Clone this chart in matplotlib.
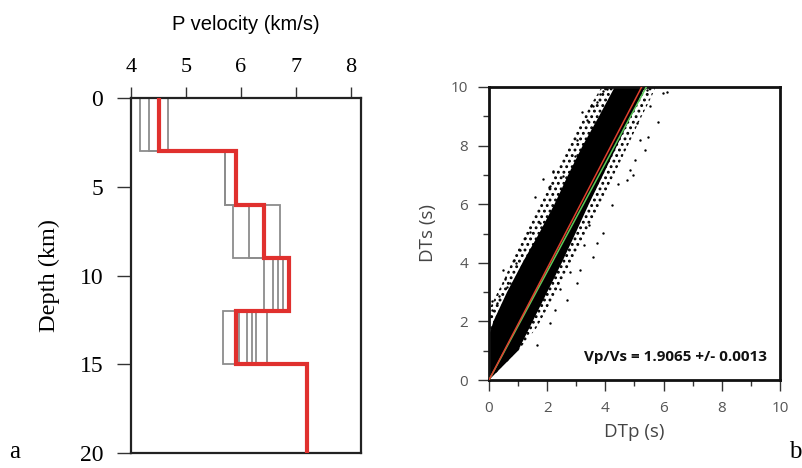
import numpy as np
import matplotlib
matplotlib.use("Agg")
import matplotlib.pyplot as plt
from matplotlib.ticker import MultipleLocator

# ---------------- data: panel a ----------------
layer_tops = [0, 3, 6, 9, 12, 15]
layer_bottom = 20
best_model = [4.5, 5.91, 6.42, 6.87, 5.91, 7.2]
trial_models = [
    [4.17, 5.71, 5.85, 6.42, 5.67, 7.2],
    [4.33, 5.71, 6.14, 6.58, 5.97, 7.2],
    [4.67, 5.91, 6.71, 6.67, 6.10, 7.2],
    [4.50, 5.91, 6.42, 6.76, 6.20, 7.2],
    [4.50, 5.91, 6.42, 6.87, 6.27, 7.2],
    [4.50, 5.91, 6.42, 6.87, 6.47, 7.2],
]
vel_ticks = [4, 5, 6, 7, 8]
depth_ticks = [0, 5, 10, 15, 20]

# ---------------- data: panel b ----------------
vpvs_fit = 1.9065
vpvs_alt = 1.85
# dense core of the cloud (outline)
core_upper_x = [0.0, 0.0, 0.15, 0.62, 1.15, 1.72, 2.25, 2.72, 3.22, 3.78, 4.32, 4.6]
core_upper_y = [0.0, 1.5, 2.0, 3.0, 4.0, 5.0, 6.0, 7.0, 8.0, 9.0, 10.0, 10.5]
core_lower_x = [0.0, 1.0, 1.5, 2.0, 2.5, 2.97, 3.43, 3.92, 4.40, 4.88, 5.36, 5.6]
core_lower_y = [0.0, 1.0, 2.0, 3.0, 4.0, 5.0, 6.0, 7.0, 8.0, 9.0, 10.0, 10.5]
# speckled fringe around the core
fringe_upper_x = [0.0, 0.0, 0.2, 0.55, 0.95, 1.45, 1.95, 2.45, 2.95, 3.5, 4.0, 4.3]
fringe_upper_y = [0.0, 2.4, 2.8, 3.5, 4.4, 5.4, 6.4, 7.4, 8.4, 9.4, 10.2, 10.6]
fringe_lower_x = [0.0, 1.0, 1.65, 2.2, 2.75, 3.25, 3.72, 4.2, 4.68, 5.15, 5.6, 5.8, 5.9]
fringe_lower_y = [0.0, 1.0, 1.8, 2.8, 3.8, 4.8, 5.8, 6.8, 7.8, 8.8, 9.7, 10.2, 10.6]
# isolated points around the cloud
out_x = [0.47, 1.58, 1.87, 2.10, 2.21, 3.18, 3.01, 3.36, 3.59, 3.93, 1.75, 1.24,
         0.93, 0.72, 0.26, 0.09, 0.61, 5.36, 5.99, 6.10, 5.80, 5.53, 5.48, 5.02,
         4.22, 3.93, 3.70, 3.56, 3.01, 3.13, 2.67, 2.27, 2.10, 4.85, 4.73, 5.07,
         5.42, 3.70, 3.50, 3.81, 4.04, 2.19, 2.07, 0.05, 0.12, 0.35, 0.55, 0.85,
         1.05, 1.40, 2.55, 2.95, 4.45, 4.95, 5.20, 1.65, 2.45, 2.80, 3.25, 3.45]
out_y = [3.76, 6.26, 6.86, 6.61, 7.12, 9.13, 8.20, 8.88, 9.34, 9.85, 5.35, 4.84,
         3.99, 3.30, 2.62, 2.68, 3.19, 7.86, 9.79, 9.82, 8.80, 9.34, 8.31, 7.52,
         5.98, 5.01, 4.67, 4.21, 3.30, 3.76, 2.73, 2.39, 1.94, 7.18, 6.83, 8.77,
         9.91, 9.50, 9.35, 9.76, 9.92, 7.11, 6.60, 2.20, 2.40, 2.85, 3.45, 4.10,
         4.45, 5.05, 6.95, 7.65, 6.70, 7.00, 8.20, 1.20, 3.10, 3.70, 4.60, 5.30]
dt_ticks = [0, 2, 4, 6, 8, 10]

W, H = 803, 468
plt.rcParams["hatch.linewidth"] = 1.3
fig = plt.figure(figsize=(W / 100, H / 100), dpi=100)

serif = ["Liberation Serif", "DejaVu Serif"]
sans = ["Liberation Sans", "DejaVu Sans"]
osans = ["Open Sans", "DejaVu Sans"]

# ---------------- panel a ----------------
axa = fig.add_axes([131 / W, 1 - 453 / H, 230 / W, 355 / H])
depth_edges = layer_tops + [layer_bottom]


def step_xy(vals):
    xs = np.repeat(vals, 2)
    ys = np.column_stack([depth_edges[:-1], depth_edges[1:]]).ravel()
    return xs, ys


for m in trial_models:
    xs, ys = step_xy(m)
    axa.plot(xs, ys, color="#8c8c8c", lw=1.3, solid_joinstyle="miter", zorder=2)
xs, ys = step_xy(best_model)
axa.plot(xs, ys, color="#e0302e", lw=3.0, solid_joinstyle="miter", zorder=3)

axa.set_xlim(4, 8.18)
axa.set_ylim(20, 0)
axa.xaxis.tick_top()
axa.set_xticks(vel_ticks)
axa.set_yticks(depth_ticks)
axa.tick_params(axis="x", direction="out", length=8, width=1.0, color="#333333",
                labelsize=16, pad=7)
axa.tick_params(axis="y", direction="out", length=10, width=1.0, color="#333333",
                labelsize=17, pad=10)
for lab in axa.get_xticklabels() + axa.get_yticklabels():
    lab.set_family(serif)
for s in axa.spines.values():
    s.set_linewidth(1.6)
    s.set_color("#222222")
axa.xaxis.set_label_position("top")
axa.set_xlabel("P velocity (km/s)", fontsize=14.5, family=sans, labelpad=20)
axa.set_ylabel("Depth (km)", fontsize=17.5, family=serif, labelpad=14)

# ---------------- panel b ----------------
axb = fig.add_axes([489 / W, 1 - 380 / H, 291 / W, 293 / H])
fr_x = fringe_upper_x + fringe_lower_x[::-1]
fr_y = fringe_upper_y + fringe_lower_y[::-1]
axb.fill(fr_x, fr_y, facecolor="none", edgecolor="black", hatch="...", lw=0, zorder=1)
poly_x = core_upper_x + core_lower_x[::-1]
poly_y = core_upper_y + core_lower_y[::-1]
axb.fill(poly_x, poly_y, color="black", lw=0, zorder=1)
axb.scatter(out_x, out_y, s=3, color="black", lw=0, zorder=1)
line_x = np.array([0, 10])
axb.plot(line_x, vpvs_alt * line_x, color="#5cc85a", lw=1.1, zorder=3)
axb.plot(line_x, vpvs_fit * line_x, color="#e0402e", lw=1.1, zorder=3)
axb.set_xlim(0, 10)
axb.set_ylim(0, 10)
axb.set_xticks(dt_ticks)
axb.set_yticks(dt_ticks)
axb.xaxis.set_minor_locator(MultipleLocator(1))
axb.yaxis.set_minor_locator(MultipleLocator(1))
axb.tick_params(which="major", direction="out", length=8, width=1.0, color="#333333",
                labelsize=11, labelcolor="#555555", pad=7)
axb.tick_params(which="minor", direction="out", length=4, width=1.0, color="#333333")
for lab in axb.get_xticklabels() + axb.get_yticklabels():
    lab.set_family(osans)
for s in axb.spines.values():
    s.set_linewidth(2.0)
    s.set_color("#111111")
axb.set_xlabel("DTp (s)", fontsize=13.5, color="#444444", family=osans, labelpad=5)
axb.set_ylabel("DTs (s)", fontsize=13.5, color="#444444", family=osans, labelpad=10)
axb.text(0.955, 0.055, "Vp/Vs = 1.9065 +/- 0.0013", transform=axb.transAxes,
         ha="right", va="bottom", fontsize=11, fontweight="bold",
         family=osans, color="#111111", zorder=4)

fig.text(15 / W, 1 - 452 / H, "a", fontsize=18, family=serif, ha="center", va="center")
fig.text(795 / W, 1 - 452 / H, "b", fontsize=18, family=serif, ha="center", va="center")

fig.savefig("out.png", dpi=100)
